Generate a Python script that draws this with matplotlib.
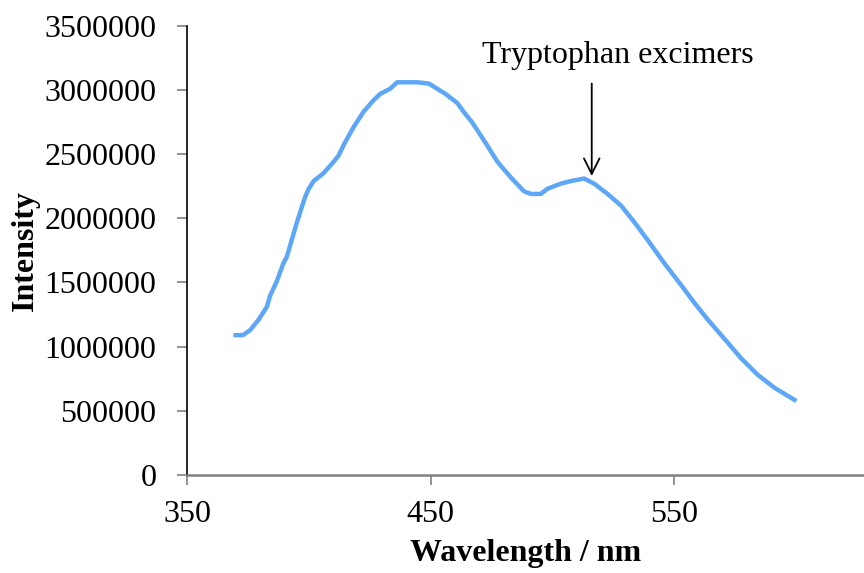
import matplotlib
matplotlib.use("Agg")
from matplotlib import pyplot as plt

# emission spectrum
wavelength = [370, 373, 376, 379.4, 382.8, 384.2, 386.9, 389.6, 391, 393, 395, 397.2,
              398.6, 400, 402, 406, 410.2, 412.3, 414.3, 418.4, 422.5, 426.6, 429.4,
              433.5, 436.3, 440.4, 444.5, 449.3, 452.7, 456.1, 460.9, 463.6, 467,
              469.8, 473.2, 477.5, 482.9, 488.4, 491.2, 495.3, 498, 503.5,
              507.6, 513.1, 517.2, 522.7, 528.2, 533.7, 539.2, 546, 552.9, 558.4,
              563.9, 572.1, 577.5, 584.4, 591.2, 599.5]
intensity = [1090000, 1090000, 1130000, 1210000, 1310000, 1400000, 1510000, 1650000,
             1700000, 1830000, 1960000, 2090000, 2170000, 2230000, 2290000, 2350000,
             2440000, 2490000, 2570000, 2710000, 2830000, 2920000, 2970000, 3010000,
             3060000, 3060000, 3060000, 3050000, 3010000, 2970000, 2900000, 2830000,
             2750000, 2670000, 2570000, 2440000, 2320000, 2210000, 2190000,
             2190000, 2230000, 2270000, 2290000, 2310000, 2270000, 2190000, 2100000,
             1970000, 1830000, 1650000, 1480000, 1340000, 1210000, 1030000, 910000,
             780000, 680000, 585000]

x_ticks = [350, 450, 550]
y_ticks = [0, 500000, 1000000, 1500000, 2000000, 2500000, 3000000, 3500000]

plt.rcParams['font.family'] = ['Liberation Serif', 'DejaVu Serif']

fig = plt.figure(figsize=(8.64, 5.73), dpi=100)
ax = fig.add_axes([0.2164, 0.171, 0.7836, 0.784])

ax.plot(wavelength, intensity, color='#5EA7F7', linewidth=3.2)

ax.set_xlim(350, 628)
ax.set_ylim(0, 3500000)
ax.set_xticks(x_ticks)
ax.set_yticks(y_ticks)
ax.set_yticklabels([str(v) for v in y_ticks])

ax.spines['top'].set_visible(False)
ax.spines['right'].set_visible(False)
ax.spines['bottom'].set_color('#808080')
ax.spines['bottom'].set_linewidth(1.8)
ax.spines['left'].set_color('black')
ax.spines['left'].set_linewidth(1.2)
ax.tick_params(axis='both', labelsize=23, length=7, width=1.2, color='#808080')
ax.tick_params(axis='y', pad=15)
ax.tick_params(axis='x', pad=11)

ax.set_xlabel('Wavelength / nm', fontsize=23, fontweight='bold', labelpad=7)
ax.set_ylabel('Intensity', fontsize=23, fontweight='bold', labelpad=3)

# label and vertical arrow pointing at the excimer shoulder
ax.text(527, 3270000, 'Tryptophan excimers', fontsize=23, ha='center', va='center')
ax.annotate('', xy=(516.2, 2330000), xytext=(516.2, 3050000),
            arrowprops=dict(arrowstyle='->', color='black', lw=1.3,
                            mutation_scale=28, shrinkA=0, shrinkB=0))

fig.savefig('out.png', dpi=100)
